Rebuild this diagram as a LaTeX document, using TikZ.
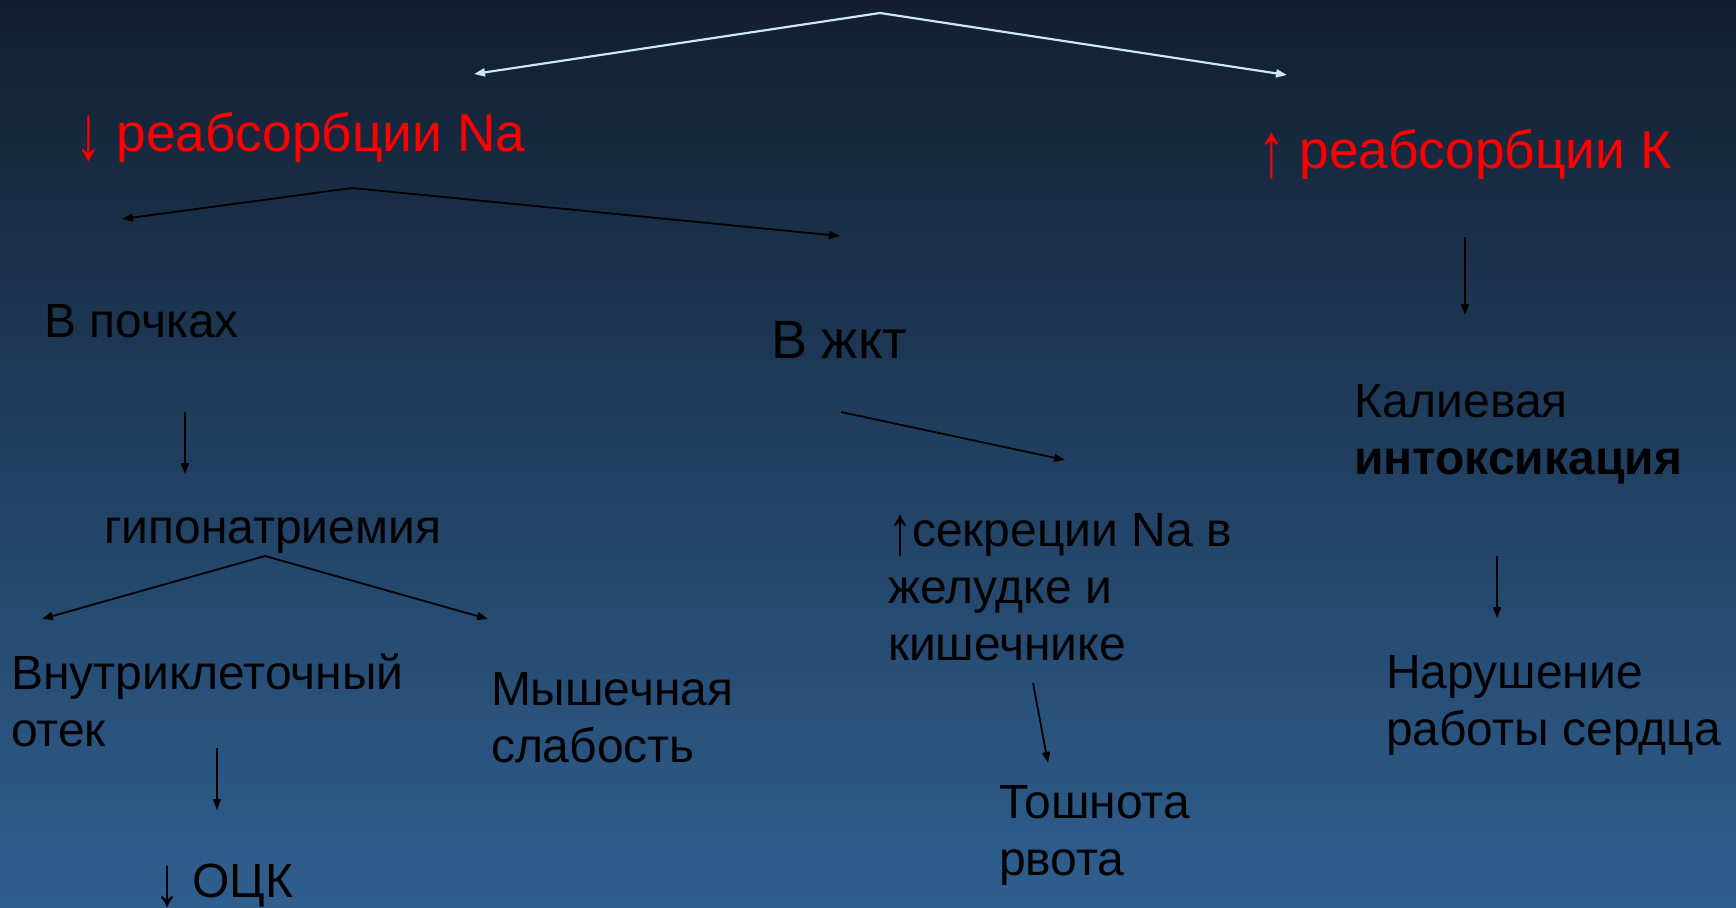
\documentclass[tikz,border=0pt]{standalone}
\usepackage{fontspec}
\setmainfont{Liberation Sans}
\usetikzlibrary{arrows.meta}
\definecolor{bgtop}{RGB}{18,31,48}
\definecolor{bgbot}{RGB}{47,95,143}
\definecolor{toparrow}{RGB}{205,230,248}
\newcommand\stk[1]{\vtop{\halign{##\hfil\cr#1\crcr}}}
\newcommand\darr{\raisebox{-0.21em}{\raisebox{\depth}{\resizebox*{\width}{0.86em}{↓}}}}
\newcommand\uarr{\raisebox{-0.21em}{\raisebox{\depth}{\resizebox*{\width}{0.86em}{↑}}}}
\tikzset{
 lbl/.style={anchor=base west, inner sep=0pt, outer sep=0pt, font=\fontsize{48}{57}\selectfont, text=black},
 biglbl/.style={lbl, font=\fontsize{54}{64}\selectfont},
 redlbl/.style={anchor=base west, inner sep=0pt, outer sep=0pt, font=\fontsize{53.3}{64}\selectfont, text=red},
 conn/.style={draw=black, line width=1.8pt, -{Triangle[length=11pt,width=8pt]}},
 topconn/.style={draw=toparrow, line width=2.2pt, -{Triangle[length=11pt,width=8pt]}},
}
\begin{document}
\begin{tikzpicture}[x=1pt,y=-1pt]
\shade[top color=bgtop,bottom color=bgbot] (0,0) rectangle (1736,907);
\useasboundingbox (0,0) rectangle (1736,907);

% labels
\node[redlbl] (na) at (75,151) {\darr{} реабсорбции Na};
\node[redlbl] (k) at (1258,168) {\uarr{} реабсорбции К};
\node[lbl] (pochki) at (44,337) {В почках};
\node[biglbl] (zhkt) at (771,358) {В жкт};
\node[lbl] (hypo) at (104,543) {гипонатриемия};
\node[lbl] (kalii) at (1354,417) {\stk{Калиевая\cr\bfseries интоксикация}};
\node[lbl] (vnutri) at (11,689) {\stk{Внутриклеточный\cr отек}};
\node[lbl] (mysh) at (491,705) {\stk{Мышечная\cr слабость}};
\node[lbl] (ock) at (155,897) {\darr{} ОЦК};
\node[lbl] (sekr) at (888,546) {\stk{\uarr секреции Na в\cr желудке и\cr кишечнике}};
\node[lbl] (toshn) at (999,818) {\stk{Тошнота\cr рвота}};
\node[lbl] (narush) at (1386,688) {\stk{Нарушение\cr работы сердца}};

% connector end points
\coordinate (topA) at (880,13);
\coordinate (topL) at (474,74);
\coordinate (topR) at (1287,75);
\coordinate (naA) at (352,188);
\coordinate (naL) at (122,219);
\coordinate (naR) at (840,236);
\coordinate (poS) at (185,412);
\coordinate (poE) at (185,474);
\coordinate (hyA) at (265,556);
\coordinate (hyL) at (42,619);
\coordinate (hyR) at (488,619);
\coordinate (vnS) at (217,748);
\coordinate (vnE) at (217,810);
\coordinate (zkS) at (841,412);
\coordinate (zkE) at (1065,460);
\coordinate (seS) at (1033,683);
\coordinate (seE) at (1048,763);
\coordinate (kS) at (1465,237);
\coordinate (kE) at (1465,315);
\coordinate (inS) at (1497,556);
\coordinate (inE) at (1497,618);

% connectors
\draw[topconn] (topA) -- (topL);
\draw[topconn] (topA) -- (topR);
\draw[conn] (naA) -- (naL);
\draw[conn] (naA) -- (naR);
\draw[conn] (poS) -- (poE);
\draw[conn] (hyA) -- (hyL);
\draw[conn] (hyA) -- (hyR);
\draw[conn] (vnS) -- (vnE);
\draw[conn] (zkS) -- (zkE);
\draw[conn] (seS) -- (seE);
\draw[conn] (kS) -- (kE);
\draw[conn] (inS) -- (inE);
\end{tikzpicture}
\end{document}
